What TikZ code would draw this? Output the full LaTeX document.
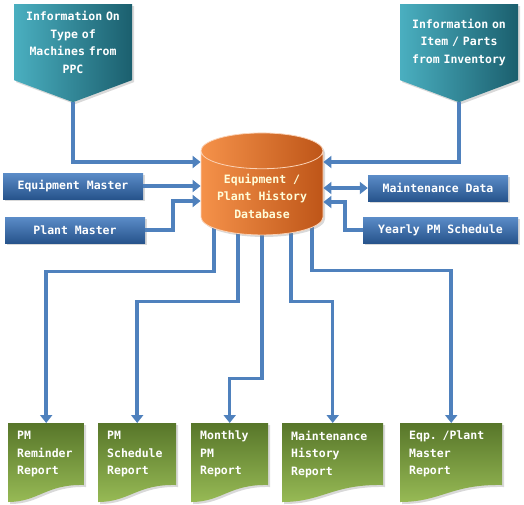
\documentclass[tikz,border=0pt]{standalone}
\usepackage{fontspec}
\newfontfamily\diagfont{DejaVu Sans Mono}
\usetikzlibrary{shapes.geometric,shapes.symbols,arrows.meta,shadows,backgrounds}

\definecolor{flowblue}{HTML}{4F81BD}
\definecolor{tealA}{HTML}{4AAFC0}
\definecolor{tealB}{HTML}{1B5F6E}
\definecolor{boxA}{HTML}{5B8CC8}
\definecolor{boxB}{HTML}{27548C}
\definecolor{dbA}{HTML}{F5924A}
\definecolor{dbB}{HTML}{BE5518}
\definecolor{docA}{HTML}{97BA55}
\definecolor{docB}{HTML}{4C6A22}

\begin{document}
\begin{tikzpicture}[x=1pt,y=-1pt,
  font=\diagfont\bfseries\fontsize{11.5}{17.5}\selectfont,
  shade1/.style={drop shadow={opacity=0.3,shadow xshift=2pt,shadow yshift=-2pt}},
  flow/.style={draw=flowblue,line width=3.5pt,-{Triangle[length=8pt,width=12pt]}},
  source/.style={signal,signal to=south,signal from=nothing,signal pointer angle=139,
    minimum width=118pt,minimum height=98pt,text width=100pt,inner xsep=9pt,align=center,
    text=white,left color=tealA,right color=tealB,shade1},
  master/.style={rectangle,minimum height=26pt,inner xsep=0pt,text=white,
    top color=boxA,bottom color=boxB,shade1},
  report/.style={rectangle,anchor=north west,minimum height=62pt,inner xsep=9pt,
    align=left,text=white}]
\useasboundingbox (0,0) rectangle (524,504);

% sources
\node[source,anchor=north] (ppc) at (73,4) {Information On\\Type of\\Machines from\\PPC};
\node[source,anchor=north] (inv) at (459,4) {Information on\\Item / Parts\\from Inventory};

% database
\node[cylinder,shape border rotate=90,aspect=0.37,minimum width=122pt,minimum height=102pt,
  draw=white!60!dbA,line width=0.8pt,left color=dbA,right color=dbB,shade1,
  text=white!85!yellow,align=center] (db) at (262,196) {Equipment /\\Plant History\\Database};

% masters
\node[master,minimum width=140pt] (eqm) at (73,186) {Equipment Master};
\node[master,minimum width=140pt] (plm) at (75,230) {Plant Master};
\node[master,minimum width=140pt] (mnt) at (438,188) {Maintenance Data};
\node[master,minimum width=155pt] (yps) at (440.5,230) {Yearly PM Schedule};

% reports
\foreach \n/\x/\w/\t in {rem/8/76/{PM\\Reminder\\Report},sch/98/78/{PM\\Schedule\\Report},
    mon/191/77/{Monthly\\PM\\Report},his/282/101/{Maintenance\\History\\Report},
    eqp/400/102/{Eqp. /Plant\\Master\\Report}} {
  \shade[top color=docB!85!docA,bottom color=docA,shade1] (\x,423) -- (\x+\w,423) -- (\x+\w,485)
    .. controls (\x+0.5*\w,484) and (\x+0.4*\w,502) .. (\x,502) -- cycle;
  \node[report,minimum width=\w pt,text width=\w pt-18pt] (\n) at (\x,423) {\t};
}

% inputs
\draw[flow] (ppc.south) |- ([yshift=34pt]db.west);
\draw[flow] (inv.south) |- ([yshift=34pt]db.east);
\draw[flow] (eqm.east) -- (eqm.east -| db.west);
\draw[flow] (plm.east) -- ++(28,0) |- ([yshift=-5pt]db.west);
\draw[flow,{Triangle[length=8pt,width=12pt]}-{Triangle[length=8pt,width=12pt]}] (db.east |- mnt.west) -- (mnt.west);
\draw[flow] (yps.west) -- ++(-18,0) |- ([yshift=-6pt]db.east);

% outputs
\begin{scope}[on background layer]
\draw[flow] ([xshift=-48pt,yshift=10pt]db.south) -- ++(0,46) -| (rem.north);
\draw[flow] ([xshift=-24pt,yshift=10pt]db.south) -- ++(0,76) -| (sch.north);
\draw[flow] ([yshift=10pt]db.south) -- ++(0,153) -| (mon.north);
\draw[flow] ([xshift=29pt,yshift=10pt]db.south) -- ++(0,76) -| (his.north);
\draw[flow] ([xshift=50pt,yshift=10pt]db.south) -- ++(0,45) -| (eqp.north);
\end{scope}
\end{tikzpicture}
\end{document}
